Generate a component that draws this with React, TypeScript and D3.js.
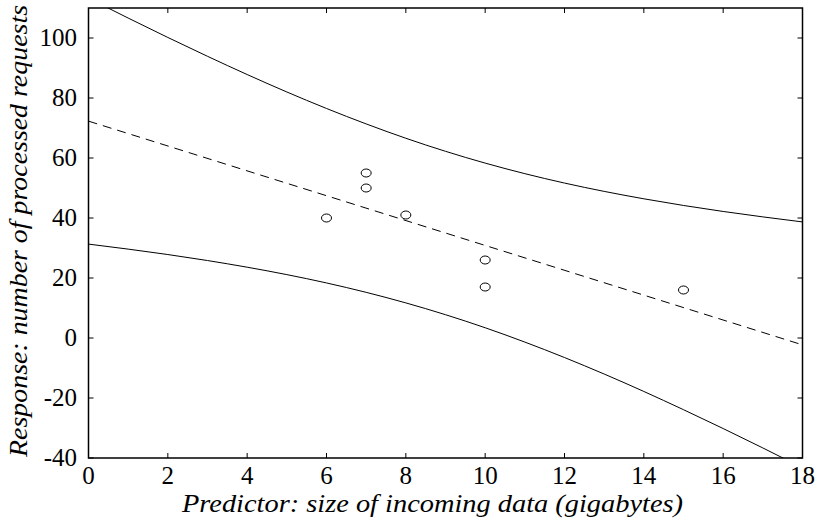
import React from "react";
import * as d3 from "d3";

const pointX = [6, 7, 7, 8, 10, 10, 15];
const pointY = [40, 55, 50, 41, 26, 17, 16];

const fitX = [0, 18];
const fitY = [72.29, -2.29];

const bandX = [0, 1, 2, 3, 4, 5, 6, 7, 8, 9, 10, 11, 12, 13, 14, 15, 16, 17, 18];
const upperY = [113.27, 106.65, 100.18, 93.9, 87.82, 82.01, 76.51, 71.36, 66.58, 62.23, 58.3, 54.78, 51.65, 48.87, 46.4, 44.18, 42.18, 40.37, 38.69];
const lowerY = [31.3, 29.63, 27.82, 25.82, 23.6, 21.13, 18.35, 15.22, 11.7, 7.77, 3.42, -1.36, -6.51, -12.01, -17.82, -23.9, -30.18, -36.65, -43.27];

const xTicks = [0, 2, 4, 6, 8, 10, 12, 14, 16, 18];
const yTicks = [-40, -20, 0, 20, 40, 60, 80, 100];

const xLabel = "Predictor: size of incoming data (gigabytes)";
const yLabel = "Response: number of processed requests";

export default function App() {
  const W = 817, H = 522;
  const L = 88.5, R = 802.5, T = 8, B = 458;
  const x = d3.scaleLinear().domain([0, 18]).range([L, R]);
  const y = d3.scaleLinear().domain([-40, 110]).range([B, T]);
  const tick = 5;

  const line = d3.line<[number, number]>().x(d => x(d[0])).y(d => y(d[1])).curve(d3.curveMonotoneX);
  const upper = line(bandX.map((v, i) => [v, upperY[i]] as [number, number])) || "";
  const lower = line(bandX.map((v, i) => [v, lowerY[i]] as [number, number])) || "";
  const fit = d3.line<[number, number]>().x(d => x(d[0])).y(d => y(d[1]))(fitX.map((v, i) => [v, fitY[i]] as [number, number])) || "";

  return (
    <svg width={W} height={H} style={{ position: "absolute", left: 0, top: 0, background: "#fff" }}>
      <defs>
        <clipPath id="plot">
          <rect x={L} y={T} width={R - L} height={B - T} />
        </clipPath>
      </defs>
      <rect x={0} y={0} width={W} height={H} fill="#fff" />
      <g clipPath="url(#plot)" fill="none" stroke="#000">
        <path d={upper} strokeWidth={1} />
        <path d={lower} strokeWidth={1} />
        <path d={fit} strokeWidth={1} strokeDasharray="9,6" />
      </g>
      {pointX.map((v, i) => (
        <ellipse key={i} cx={x(v)} cy={y(pointY[i])} rx={5} ry={4} fill="none" stroke="#000" strokeWidth={1} />
      ))}
      <g stroke="#000" strokeWidth={1}>
        {xTicks.map(t => (
          <g key={"x" + t}>
            <line x1={x(t)} x2={x(t)} y1={B} y2={B - tick} />
            <line x1={x(t)} x2={x(t)} y1={T} y2={T + tick} />
          </g>
        ))}
        {yTicks.map(t => (
          <g key={"y" + t}>
            <line x1={L} x2={L + tick} y1={y(t)} y2={y(t)} />
            <line x1={R} x2={R - tick} y1={y(t)} y2={y(t)} />
          </g>
        ))}
      </g>
      <rect x={L} y={T} width={R - L} height={B - T} fill="none" stroke="#000" strokeWidth={1.5} />
      <g fill="#000" style={{ fontFamily: "'Liberation Serif', 'DejaVu Serif', serif", fontSize: "25px" }}>
        {xTicks.map(t => (
          <text key={"xl" + t} x={x(t)} y={484} textAnchor="middle">{t}</text>
        ))}
        {yTicks.map(t => (
          <text key={"yl" + t} x={77} y={y(t)} dy="0.33em" textAnchor="end">{t}</text>
        ))}
        <text x={432.5} y={512} textAnchor="middle" fontStyle="italic" textLength={501} lengthAdjust="spacingAndGlyphs">{xLabel}</text>
        <text transform={`translate(27,231) rotate(-90)`} textAnchor="middle" fontStyle="italic" textLength={452} lengthAdjust="spacingAndGlyphs">{yLabel}</text>
      </g>
    </svg>
  );
}
